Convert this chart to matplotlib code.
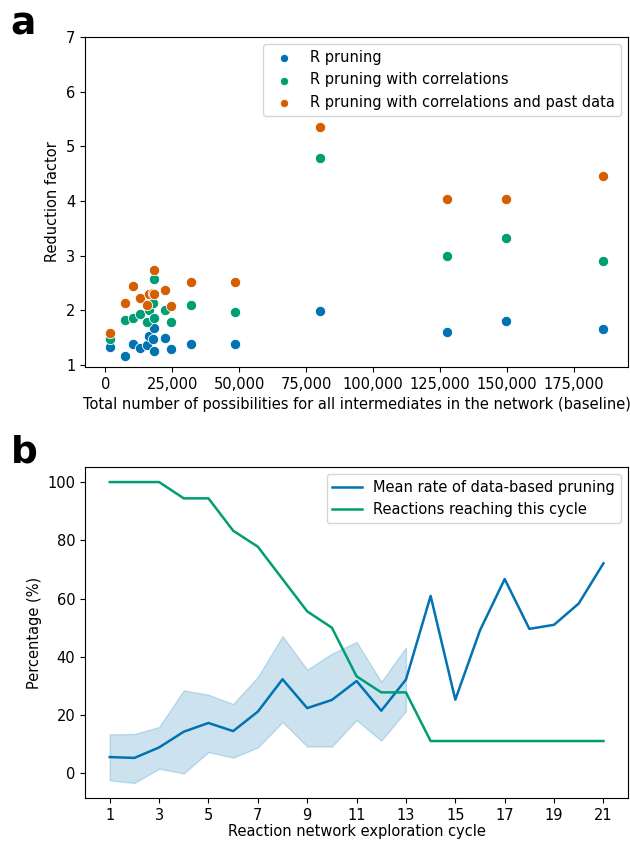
import numpy as np
import matplotlib
matplotlib.use("Agg")
import matplotlib.pyplot as plt
from matplotlib.ticker import FuncFormatter

# panel a: network size (baseline possibilities) vs reduction factor
size_k = [1.6, 7.2, 10.2, 12.8, 15.4, 16.2, 17.6, 18.0, 18.0, 22.1, 24.5, 31.8, 48.4, 80.0, 127.7, 149.7, 186.0]
red_r = [1.32, 1.17, 1.39, 1.30, 1.37, 1.53, 1.48, 1.67, 1.26, 1.50, 1.29, 1.39, 1.39, 1.99, 1.60, 1.80, 1.66]
red_corr = [1.48, 1.82, 1.85, 1.94, 1.79, 2.00, 2.13, 1.85, 2.57, 2.00, 1.78, 2.10, 1.96, 4.78, 3.00, 3.32, 2.91]
red_past = [1.58, 2.14, 2.45, 2.23, 2.10, 2.29, 2.31, 2.29, 2.74, 2.37, 2.07, 2.51, 2.52, 5.35, 4.04, 4.03, 4.46]
labels_a = ["R pruning", "R pruning with correlations", "R pruning with correlations and past data"]

# panel b: per-cycle values
cycle = list(range(1, 22))
mean_rate = [5.6, 5.3, 8.9, 14.3, 17.3, 14.5, 21.2, 32.3, 22.4, 25.2, 31.7, 21.5, 32.2,
             60.9, 25.3, 49.1, 66.7, 49.6, 51.0, 58.3, 72.1]
band_hi = [13.4, 13.5, 15.9, 28.5, 27.0, 23.8, 33.1, 47.1, 35.6, 41.1, 45.1, 31.4, 43.2]
band_lo = [-2.4, -3.3, 1.6, 0.0, 7.3, 5.4, 8.9, 17.6, 9.2, 9.2, 18.3, 11.2, 21.4]
reach = [100, 100, 100, 94.4, 94.4, 83.3, 77.8, 66.7, 55.6, 50.0, 33.3, 27.8, 27.8,
         11.1, 11.1, 11.1, 11.1, 11.1, 11.1, 11.1, 11.1]

blue = "#0173b2"
green = "#029e73"
orange = "#d55e00"

plt.rcParams["font.size"] = 10.5

fig = plt.figure(figsize=(6.3, 8.41), dpi=100)

ax1 = fig.add_axes([0.135, 0.5636, 0.862, 0.3924])
x = np.array(size_k) * 1000
for y, c, lab in zip([red_r, red_corr, red_past], [blue, green, orange], labels_a):
    ax1.scatter(x, y, s=55, color=c, edgecolor="white", linewidth=0.6, label=lab, zorder=3)
ax1.set_ylim(top=7)
ax1.set_yticks(range(1, 8))
ax1.set_xticks(range(0, 175001, 25000))
ax1.xaxis.set_major_formatter(FuncFormatter(lambda v, p: f"{int(v):,}"))
ax1.set_xlabel("Total number of possibilities for all intermediates in the network (baseline)")
ax1.set_ylabel("Reduction factor")
ax1.legend(loc="upper right", markerscale=0.8)

ax2 = fig.add_axes([0.135, 0.0511, 0.862, 0.3936])
ax2.fill_between(cycle[:len(band_hi)], band_lo, band_hi, color=blue, alpha=0.2, linewidth=1)
ax2.plot(cycle, mean_rate, color=blue, lw=1.8, label="Mean rate of data-based pruning")
ax2.plot(cycle, reach, color=green, lw=1.8, label="Reactions reaching this cycle")
ax2.set_xticks(range(1, 22, 2))
ax2.set_xlim(0, 22)
ax2.set_xlabel("Reaction network exploration cycle", labelpad=1)
ax2.set_ylabel("Percentage (%)")
ax2.legend(loc="upper right")

fig.text(0.017, 0.971, "a", fontsize=27, fontweight="bold", va="center")
fig.text(0.017, 0.462, "b", fontsize=27, fontweight="bold", va="center")

fig.savefig("out.png", dpi=100)
